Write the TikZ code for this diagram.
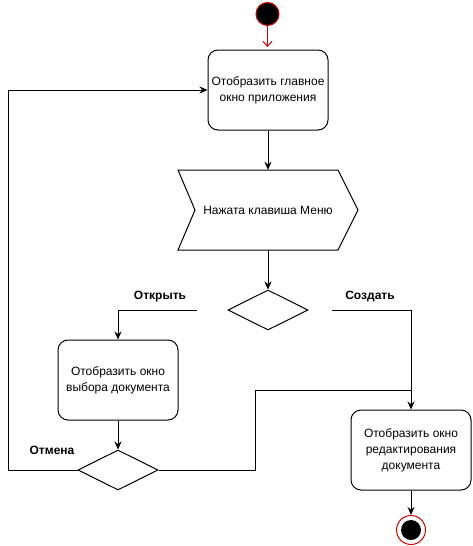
\documentclass[tikz,border=0pt]{standalone}
\usepackage{fontspec}
\setmainfont{Liberation Sans}
\usetikzlibrary{arrows.meta,shapes.geometric,calc}
\begin{document}
\begin{tikzpicture}[x=1pt,y=-1pt,
  every node/.style={font=\fontsize{12}{16}\selectfont},
  actbox/.style={draw,rounded corners=10pt,minimum width=120pt,minimum height=80pt,align=center,line width=1pt,inner sep=2pt},
  decis/.style={draw,diamond,minimum width=80pt,minimum height=40pt,inner sep=0pt,line width=1pt},
  arr/.style={line width=1pt,-{Stealth[length=8pt,width=7pt]}},
  plain/.style={line width=1pt},
  lbl/.style={font=\bfseries\fontsize{12}{14}\selectfont}]
\useasboundingbox (0,0) rectangle (472,546);
% start
\node[circle,fill=black,draw=red!80!black,line width=1pt,minimum size=23pt,inner sep=0pt] (start) at (267.5,14) {};
\node[actbox] (b1) at (268,90) {Отобразить главное\\окно приложения};
% signal
\node[minimum width=180pt,minimum height=80pt,inner sep=0pt] (sig) at (268,210) {Нажата клавиша Меню};
\draw[plain] (178,170) -- (338,170) -- (358,210) -- (338,250) -- (178,250) -- (195,210) -- cycle;
\node[decis] (d1) at (268,310) {};
\node[actbox] (b2) at (118,380) {Отобразить окно\\выбора документа};
\node[decis] (d2) at (118,470) {};
\node[actbox] (b3) at (411,450) {Отобразить окно\\редактирования\\документа};
\node[circle,draw=red!85!black,line width=1pt,minimum size=29pt,inner sep=0pt] (end) at (411,530) {};
\node[circle,fill=black,minimum size=20pt,inner sep=0pt] at (end) {};
\coordinate (j) at (411,390);
% connectors
\draw[line width=1pt,red!85!black,-{Straight Barb[length=5pt,width=9pt]}] (start) -- ++(0,33);
\draw[arr] (b1) -- (sig.north);
\draw[arr] (sig.south) -- (d1.north);
\draw[arr,shorten <=31pt] (d1.west) -| (b2.north);
\draw[arr,shorten <=23pt] (d1.east) -| (b3.north);
\draw[arr] (b2) -- (d2.north);
\draw[plain] (d2.east) -- (255,470) |- (j);
\draw[arr] (d2.west) -- (8,470) |- (b1.west);
\draw[arr] (b3) -- (end);
% labels
\node[lbl] (lo) at (160,297) {Открыть};
\node[lbl] (lc) at (370,297) {Создать};
\node[lbl] (lx) at (52,450) {Отмена};
\end{tikzpicture}
\end{document}
